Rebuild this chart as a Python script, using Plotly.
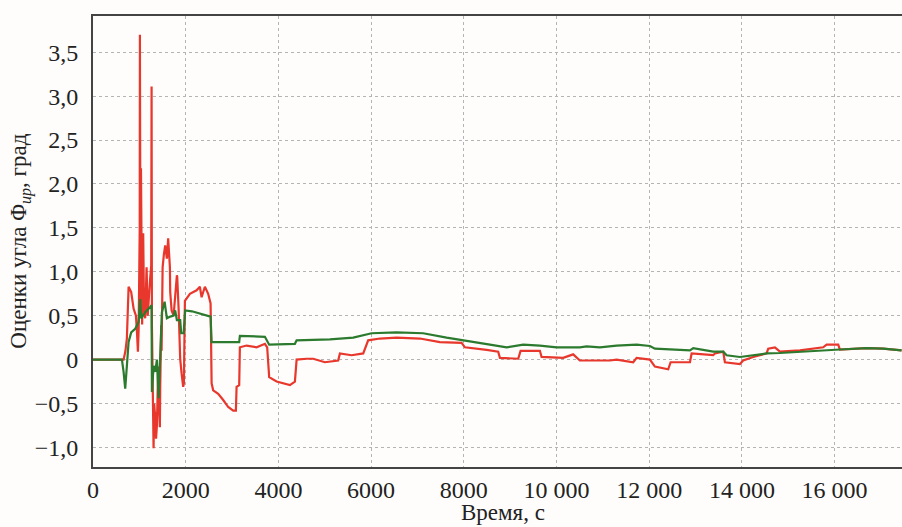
import plotly.graph_objects as go

# ---- data ----
red_t = [0, 600, 660, 700, 731, 768, 790, 824, 876, 926, 950, 969, 985, 997, 1008, 1012, 1016,
         1020, 1025, 1035, 1049, 1060, 1083, 1100, 1126, 1156, 1180, 1200, 1230, 1256, 1264,
         1271, 1285, 1299, 1307, 1320, 1335, 1342, 1360, 1372, 1379, 1407, 1415, 1430, 1443,
         1450, 1471, 1480, 1502, 1530, 1558, 1594, 1622, 1631, 1659, 1666, 1696, 1739, 1767,
         1773, 1810, 1817, 1847, 1853, 1881, 1912, 1946, 1961, 1983, 2091, 2235, 2306, 2343,
         2414, 2485, 2537, 2559, 2593, 2701, 2809, 2917, 3025, 3083, 3098, 3154, 3169, 3314,
         3530, 3709, 3758, 3801, 3961, 4248, 4356, 4393, 4608, 4751, 5003, 5290, 5327, 5579,
         5830, 5888, 5937, 6190, 6550, 7053, 7484, 7952, 8024, 8492, 8742, 8779, 9174, 9225,
         9642, 9678, 10144, 10360, 10504, 11152, 11297, 11655, 11728, 12015, 12123, 12410,
         12462, 12879, 12915, 13381, 13418, 13597, 13633, 13957, 14028, 14244, 14533, 14568,
         14712, 14820, 15252, 15754, 15828, 16078, 16114, 16690, 17048, 17445]
red_v = [0, 0, 0, 0.1, 0.24, 0.83, 0.8, 0.77, 0.58, 0.5, 0.3, 0.09, 0.35, 0.77, 1.5, 3.7, 1.0,
         2.8, 0.6, 2.18, 1.0, 0.4, 1.44, 0.6, 0.47, 1.05, 0.5, 0.73, 0.9, 1.07, 3.11,
         0.4, -0.37, -0.96, -1.01, -0.5, -0.61, -0.6, -0.9, -0.77, -0.75, -0.08, -0.14, -0.6, -0.77,
         -0.32, 0.39, 0.1, 1.05, 1.2, 1.3, 1.15, 1.38, 1.3, 1.05, 0.77, 0.56, 0.5, 0.68,
         0.73, 0.96, 0.94, 0.58, 0.45, 0.01, -0.16, -0.31, -0.27, 0.67, 0.75, 0.79, 0.83, 0.71,
         0.83, 0.75, 0.64, -0.27, -0.35, -0.39, -0.46, -0.54, -0.58, -0.58, -0.31, -0.29, 0.14, 0.16,
         0.14, 0.18, 0.14, -0.2, -0.25, -0.29, -0.25, 0.0, 0.01, 0.01, -0.03, -0.01, 0.07, 0.05,
         0.07, 0.14, 0.22, 0.24, 0.25, 0.24, 0.2, 0.19, 0.14, 0.11, 0.09, 0.02, 0.01, 0.1,
         0.1, 0.03, 0.02, 0.06, -0.01, -0.01, 0.0, -0.03, 0.02, 0.0, -0.08, -0.11,
         -0.03, -0.03, 0.07, 0.05, 0.07, 0.09, -0.03, -0.05, -0.01, 0.03, 0.07, 0.125,
         0.14, 0.09, 0.105, 0.14, 0.17, 0.17, 0.115, 0.13, 0.125, 0.105]

green_t = [0, 624, 660, 695, 731, 768, 824, 910, 984, 1018, 1040, 1126, 1234, 1264, 1271, 1307,
           1342, 1379, 1415, 1450, 1471, 1487, 1545, 1573, 1594, 1666, 1739, 1773, 1810, 1881,
           1903, 1955, 1976, 1989, 2134, 2537, 2559, 3154, 3169, 3709, 3801, 4356, 4393, 5111,
           5614, 6011, 6550, 7124, 7629, 8060, 8563, 8923, 9282, 9642, 10002, 10504, 10649,
           10936, 11297, 11728, 12015, 12123, 12879, 12950, 13381, 13597, 13670, 13957, 14244,
           14533, 14820, 15252, 15970, 16114, 16690, 17048, 17445]
green_v = [0, 0, -0.14, -0.33, -0.07, 0.2, 0.31, 0.35, 0.43, 0.69, 0.47, 0.54, 0.6, 0.62, -0.37, -0.07,
           -0.14, 0.0, -0.44, 0.01, 0.39, 0.54, 0.66, 0.56, 0.47, 0.49, 0.5, 0.56, 0.45, 0.45,
           0.3, 0.3, 0.54, 0.56, 0.55, 0.49, 0.2, 0.2, 0.27, 0.26, 0.17, 0.18, 0.22, 0.23,
           0.25, 0.3, 0.31, 0.3, 0.25, 0.21, 0.17, 0.14, 0.17, 0.16, 0.14, 0.14, 0.15,
           0.14, 0.16, 0.17, 0.155, 0.125, 0.105, 0.13, 0.09, 0.09, 0.05, 0.03, 0.05,
           0.07, 0.075, 0.09, 0.115, 0.115, 0.13, 0.125, 0.105]

x_tickvals = [0, 2000, 4000, 6000, 8000, 10000, 12000, 14000, 16000]
x_ticktext = ["0", "2000", "4000", "6000", "8000", "10 000", "12 000", "14 000", "16 000"]
y_tickvals = [-1.0, -0.5, 0, 0.5, 1.0, 1.5, 2.0, 2.5, 3.0, 3.5]
y_ticktext = ["\u22121,0", "\u22120,5", "0", "0,5", "1,0", "1,5", "2,0", "2,5", "3,0", "3,5"]

x_title = "Время, с"
y_title = "Оценки угла Φ<sub><i>up</i></sub>, град"

FONT = "'Liberation Serif', 'DejaVu Serif', serif"
TICK_SIZE = 24

fig = go.Figure()
fig.add_trace(go.Scatter(x=red_t, y=red_v, mode="lines",
                         line=dict(color="#e8372c", width=2.2), showlegend=False))
fig.add_trace(go.Scatter(x=green_t, y=green_v, mode="lines",
                         line=dict(color="#2b7a2e", width=2.2), showlegend=False))

fig.update_layout(
    width=902, height=527,
    margin=dict(l=93, r=0, t=16, b=60),
    paper_bgcolor="#fefdfb", plot_bgcolor="#fefdfb",
    font=dict(family=FONT, size=TICK_SIZE, color="#222222"),
    showlegend=False,
)
fig.update_xaxes(range=[0, 17454], tickvals=x_tickvals, ticktext=x_ticktext,
                 showgrid=True, gridcolor="#b4b4b4", griddash="dot", gridwidth=1,
                 showline=True, mirror=True, linecolor="#444444", linewidth=2,
                 zeroline=False, ticks="", ticklabelstandoff=0,
                 tickfont=dict(family=FONT, size=TICK_SIZE, color="#222222"))
fig.update_yaxes(range=[-1.223, 3.913], tickvals=y_tickvals, ticktext=y_ticktext,
                 showgrid=True, gridcolor="#b4b4b4", griddash="dot", gridwidth=1,
                 showline=True, mirror=False, linecolor="#444444", linewidth=2,
                 zeroline=False, ticks="", ticklabelstandoff=8,
                 tickfont=dict(family=FONT, size=TICK_SIZE, color="#222222"))

fig.add_annotation(text=x_title, xref="paper", yref="paper", x=0.507, y=-0.1,
                   xanchor="center", yanchor="middle", showarrow=False,
                   font=dict(family=FONT, size=23, color="#222222"))
fig.add_annotation(text=y_title, xref="paper", yref="paper", x=-0.09, y=0.5,
                   xanchor="center", yanchor="middle", showarrow=False, textangle=-90,
                   font=dict(family=FONT, size=23, color="#222222"))

fig.write_html("out.html")
